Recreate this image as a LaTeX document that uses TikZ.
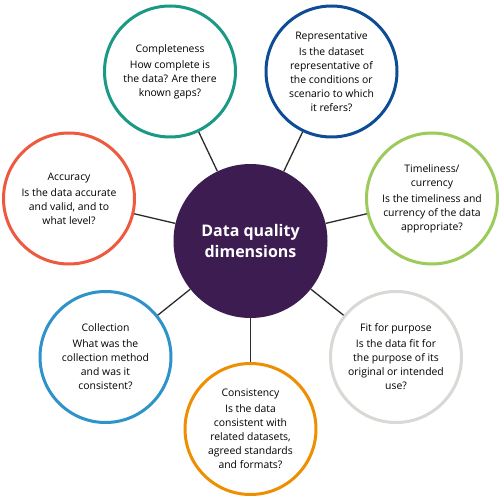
\documentclass[tikz,border=0pt]{standalone}
\usepackage{fontspec}
\setmainfont{Open Sans}
\definecolor{cteal}{HTML}{1A9A84}
\definecolor{cnavy}{HTML}{0E4D95}
\definecolor{cgreen}{HTML}{9CCB5C}
\definecolor{cred}{HTML}{EE5A3F}
\definecolor{cblue}{HTML}{2D93C8}
\definecolor{corange}{HTML}{EE8E00}
\definecolor{cgrey}{HTML}{D8D8D4}
\definecolor{cpurple}{HTML}{3C1C51}
\definecolor{cline}{HTML}{2B2B2B}
\begin{document}
\begin{tikzpicture}[x=1pt,y=-1pt,
  ring/.style={circle,draw=#1,line width=3pt,fill=white,minimum size=131pt,inner sep=0pt},
  hub/.style={circle,fill=cpurple,minimum size=154pt,inner sep=0pt},
  txt/.style={align=center,font=\fontsize{10.4}{14}\selectfont,inner sep=0pt,text=black},
  hubtxt/.style={align=center,font=\fontsize{16}{21}\selectfont\bfseries,text=white,inner sep=0pt},
  conn/.style={draw=cline,line width=1.3pt}]
\useasboundingbox (0,0) rectangle (501,500);
\fill[white] (0,0) rectangle (501,500);
\node[hub] (hub) at (250.5,241) {};
\node[ring=cteal] (comp) at (170,71.5) {};
\node[ring=cnavy] (rep) at (331.5,71.5) {};
\node[ring=cgreen] (time) at (432,198.5) {};
\node[ring=cred] (acc) at (69,198.5) {};
\node[ring=cblue] (coll) at (105.5,357) {};
\node[ring=corange] (cons) at (250.5,429) {};
\node[ring=cgrey] (fit) at (396,357) {};
\foreach \n in {comp,rep,time,acc,coll,cons,fit}{
  \draw[conn] (hub) -- (\n);
}
\node[hubtxt] at (hub.center) {Data quality\\dimensions};
\node[txt] at (comp.center) {Completeness\\[2pt]How complete is\\the data? Are there\\known gaps?};
\node[txt] at (rep.center) {Representative\\[2pt]Is the dataset\\representative of\\the conditions or\\scenario to which\\it refers?};
\node[txt] at (time.center) {Timeliness/\\currency\\[2pt]Is the timeliness and\\currency of the data\\appropriate?};
\node[txt] at (acc.center) {Accuracy\\[2pt]Is the data accurate\\and valid, and to\\what level?};
\node[txt] at (coll.center) {Collection\\[2pt]What was the\\collection method\\and was it\\consistent?};
\node[txt] at (cons.center) {Consistency\\[2pt]Is the data\\consistent with\\related datasets,\\agreed standards\\and formats?};
\node[txt] at (fit.center) {Fit for purpose\\[2pt]Is the data fit for\\the purpose of its\\original or intended\\use?};
\end{tikzpicture}
\end{document}
